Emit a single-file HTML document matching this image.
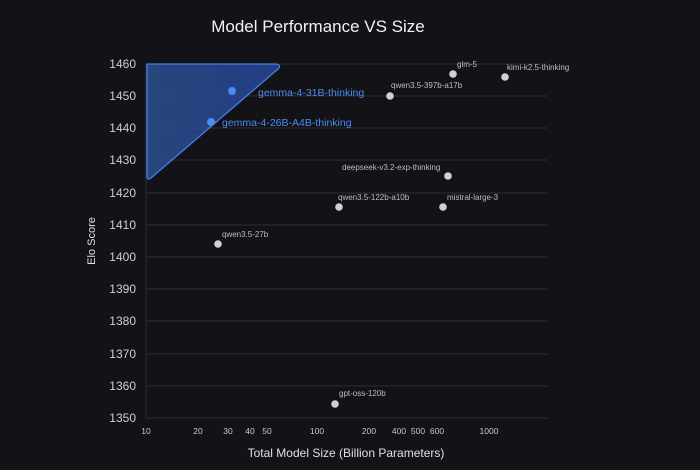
<!DOCTYPE html>
<html><head><style>
body{margin:0;background:#131317;}
svg{display:block;font-family:"Liberation Sans",sans-serif;}
</style></head><body>
<svg width="700" height="470" viewBox="0 0 700 470">
<defs><linearGradient id="g" x1="0" y1="0" x2="1" y2="0">
<stop offset="0" stop-color="#2e5295"/><stop offset="1" stop-color="#2748a0"/></linearGradient></defs>
<rect width="700" height="470" fill="#131317"/>
<text x="318" y="32" fill="#f2f2f2" font-size="17" text-anchor="middle">Model Performance VS Size</text>
<g stroke="#2e2e35" stroke-width="1">
<line x1="146" y1="64" x2="547" y2="64"/><line x1="146" y1="96" x2="547" y2="96"/>
<line x1="146" y1="128" x2="547" y2="128"/><line x1="146" y1="160" x2="547" y2="160"/>
<line x1="146" y1="193" x2="547" y2="193"/><line x1="146" y1="225" x2="547" y2="225"/>
<line x1="146" y1="257" x2="547" y2="257"/><line x1="146" y1="289" x2="547" y2="289"/>
<line x1="146" y1="321" x2="547" y2="321"/><line x1="146" y1="354" x2="547" y2="354"/>
<line x1="146" y1="386" x2="547" y2="386"/><line x1="146" y1="418" x2="547" y2="418"/>
<line x1="146" y1="64" x2="146" y2="418"/>
</g>
<g fill="#d0d0d0" font-size="12" text-anchor="end">
<text x="136" y="68">1460</text><text x="136" y="100">1450</text><text x="136" y="132">1440</text>
<text x="136" y="164">1430</text><text x="136" y="197">1420</text><text x="136" y="229">1410</text>
<text x="136" y="261">1400</text><text x="136" y="293">1390</text><text x="136" y="325">1380</text>
<text x="136" y="358">1370</text><text x="136" y="390">1360</text><text x="136" y="422">1350</text>
</g>
<g fill="#c8c8c8" font-size="8.5" text-anchor="middle">
<text x="146" y="434">10</text><text x="198" y="434">20</text><text x="228" y="434">30</text>
<text x="250" y="434">40</text><text x="267" y="434">50</text><text x="317" y="434">100</text>
<text x="369" y="434">200</text><text x="399" y="434">400</text><text x="418" y="434">500</text>
<text x="437" y="434">600</text><text x="489" y="434">1000</text>
</g>
<text x="346" y="457" fill="#e0e0e0" font-size="12" text-anchor="middle">Total Model Size (Billion Parameters)</text>
<text transform="translate(95,241) rotate(-90)" fill="#e0e0e0" font-size="11" text-anchor="middle">Elo Score</text>
<path d="M147,64 L276,64 Q282,65 278,69 L151,178 Q147,181 147,176 Z" fill="url(#g)" fill-opacity="0.8" stroke="#3f7fe8" stroke-width="1.3"/>
<circle cx="232" cy="91" r="4" fill="#4a8cf5"/>
<circle cx="211" cy="122" r="4" fill="#4a8cf5"/>
<g fill="#4a8cf5" font-size="10.5"><text x="258" y="96">gemma-4-31B-thinking</text><text x="222" y="126">gemma-4-26B-A4B-thinking</text></g>
<g fill="#cfcfd4">
<circle cx="390" cy="96" r="3.8"/><circle cx="453" cy="74" r="3.8"/><circle cx="505" cy="77" r="3.8"/>
<circle cx="448" cy="176" r="3.8"/><circle cx="443" cy="207" r="3.8"/><circle cx="339" cy="207" r="3.8"/>
<circle cx="218" cy="244" r="3.8"/><circle cx="335" cy="404" r="3.8"/>
</g>
<g fill="#bdbdc2" font-size="8">
<text x="391" y="88">qwen3.5-397b-a17b</text><text x="457" y="67">glm-5</text><text x="507" y="70">kimi-k2.5-thinking</text>
<text x="342" y="170">deepseek-v3.2-exp-thinking</text><text x="447" y="200">mistral-large-3</text>
<text x="338" y="200">qwen3.5-122b-a10b</text><text x="222" y="237">qwen3.5-27b</text><text x="339" y="396">gpt-oss-120b</text>
</g>
</svg>
</body></html>
